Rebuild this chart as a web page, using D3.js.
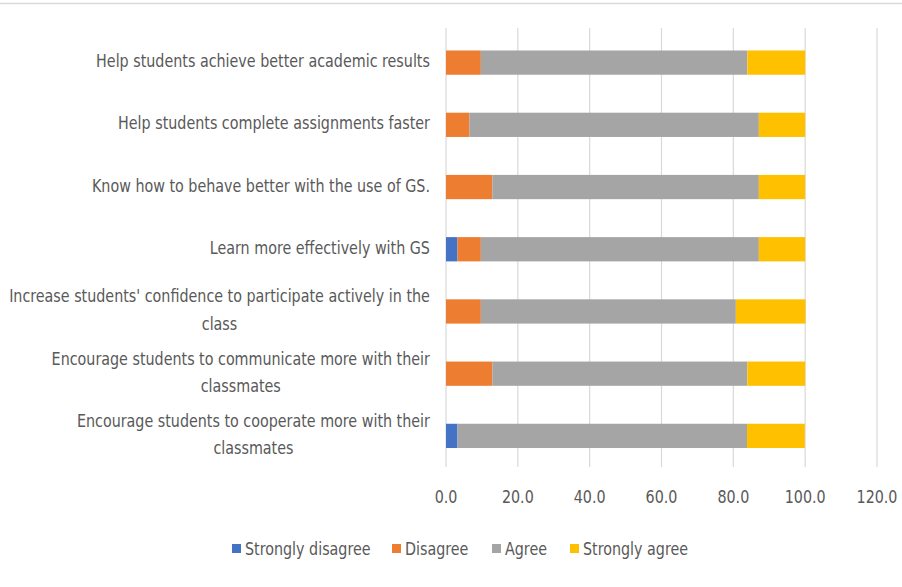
<!DOCTYPE html>
<html>
<head>
<meta charset="utf-8">
<script src="https://cdn.jsdelivr.net/npm/d3@7"></script>
<style>
  html, body { margin: 0; padding: 0; background: #fff; }
  svg { display: block; }
  text { font-family: "Liberation Sans Narrow", "DejaVu Sans Condensed", "Liberation Sans", sans-serif; fill: #595959; }
</style>
</head>
<body>
<svg id="chart" width="902" height="587"></svg>
<script>
const categories = [
  "Help students achieve better academic results",
  "Help students complete assignments faster",
  "Know how to behave better with the use of GS.",
  "Learn more effectively with GS",
  "Increase students' confidence to participate actively in the class",
  "Encourage students to communicate more with their classmates",
  "Encourage students to cooperate more with their classmates"
];
const seriesNames = ["Strongly disagree", "Disagree", "Agree", "Strongly agree"];
const seriesColors = ["#4472C4", "#ED7D31", "#A5A5A5", "#FFC000"];
const stronglyDisagree = [0, 0, 0, 3.2, 0, 0, 3.2];
const disagree = [9.7, 6.5, 12.9, 6.5, 9.7, 12.9, 0];
const agree = [74.2, 80.6, 74.2, 77.4, 71.0, 71.0, 80.6];
const stronglyAgree = [16.1, 12.9, 12.9, 12.9, 19.4, 16.1, 16.1];
const xTicks = [0, 20, 40, 60, 80, 100, 120];

const svg = d3.select("#chart");
const W = 902, H = 587;

// chart border top line
svg.append("line").attr("x1", 0).attr("x2", W).attr("y1", 3.5).attr("y2", 3.5)
  .attr("stroke", "#d9d9d9").attr("stroke-width", 1.5);

const x = d3.scaleLinear().domain([0, 120]).range([446, 877]);
const y = d3.scaleBand().domain(categories).range([31.5, 467]).paddingInner(0.61).paddingOuter(0.305);

const fontSize = 17;
// compute horizontal compression so texts match reference widths
const probe = svg.append("text").attr("font-size", fontSize).text(categories[0]);
const sx = 334 / probe.node().getComputedTextLength();
probe.remove();

function measure(str) {
  const t = svg.append("text").attr("font-size", fontSize).text(str);
  const w = t.node().getComputedTextLength() * sx;
  t.remove();
  return w;
}

// gridlines
svg.append("g").selectAll("line").data(xTicks).join("line")
  .attr("x1", d => x(d)).attr("x2", d => x(d))
  .attr("y1", 28).attr("y2", 467)
  .attr("stroke", "#d9d9d9").attr("stroke-width", 1.2);

// stacked data
const rows = categories.map((c, i) => ({
  cat: c,
  "Strongly disagree": stronglyDisagree[i],
  "Disagree": disagree[i],
  "Agree": agree[i],
  "Strongly agree": stronglyAgree[i]
}));
const stack = d3.stack().keys(seriesNames)(rows);

svg.append("g").selectAll("g").data(stack).join("g")
  .attr("fill", (d, i) => seriesColors[i])
  .selectAll("rect").data(d => d).join("rect")
  .attr("x", d => x(d[0]))
  .attr("width", d => Math.max(0, x(d[1]) - x(d[0])))
  .attr("y", d => y(d.data.cat))
  .attr("height", y.bandwidth());

// category labels (wrapped, centered block, right edge at 430)
const maxW = 425, rightEdge = 430, lineH = 27.5;
categories.forEach(c => {
  const words = c.split(" ");
  const lines = [];
  let cur = "";
  words.forEach(w => {
    const test = cur ? cur + " " + w : w;
    if (cur && measure(test) > maxW) { lines.push(cur); cur = w; }
    else cur = test;
  });
  if (cur) lines.push(cur);
  const widths = lines.map(measure);
  const blockW = Math.max(...widths);
  const cx = rightEdge - blockW / 2;
  const cy = y(c) + y.bandwidth() / 2;
  lines.forEach((ln, k) => {
    const ly = cy + (k - (lines.length - 1) / 2) * lineH + fontSize * 0.33 - 1;
    svg.append("text")
      .attr("font-size", fontSize)
      .attr("text-anchor", "middle")
      .attr("transform", `translate(${cx},${ly}) scale(${sx},1)`)
      .text(ln);
  });
});

// x tick labels
svg.append("g").selectAll("text").data(xTicks).join("text")
  .attr("font-size", fontSize)
  .attr("text-anchor", "middle")
  .attr("transform", d => `translate(${x(d)},${503}) scale(${sx},1)`)
  .text(d => d3.format(".1f")(d));

// legend
const legendX = [232, 392, 492, 570];
const lg = svg.append("g");
seriesNames.forEach((n, i) => {
  lg.append("rect").attr("x", legendX[i]).attr("y", 544).attr("width", 9).attr("height", 9)
    .attr("fill", seriesColors[i]);
  lg.append("text").attr("font-size", fontSize)
    .attr("transform", `translate(${legendX[i] + 13},${555}) scale(${sx},1)`)
    .text(n);
});
</script>
</body>
</html>
